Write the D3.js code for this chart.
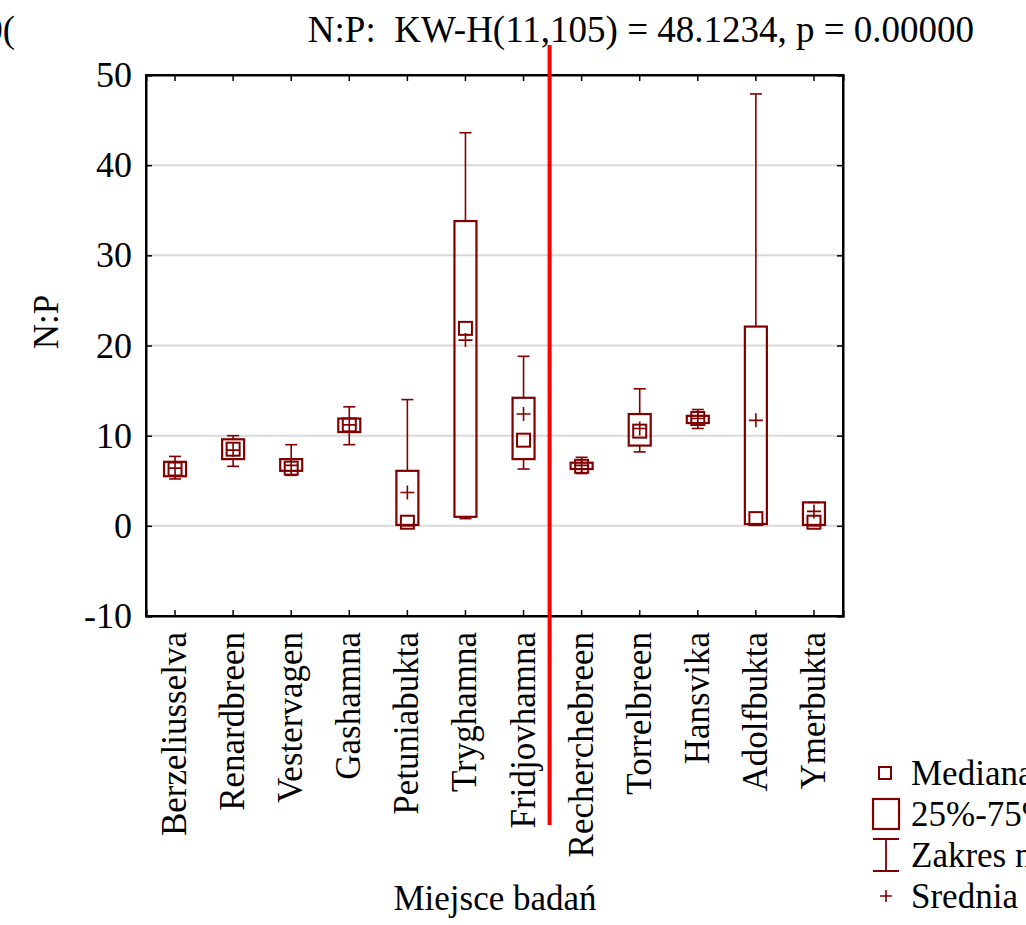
<!DOCTYPE html>
<html><head><meta charset="utf-8">
<script src="https://cdn.jsdelivr.net/npm/d3@7"></script>
<style>body{margin:0;background:#fff}svg{display:block}text{font-family:'Liberation Serif','Times New Roman',serif;fill:#000}</style>
</head><body>
<svg id="c" width="1026" height="925"></svg>
<script>
const categories = ["Berzeliusselva","Renardbreen","Vestervagen","Gashamna","Petuniabukta","Tryghamna","Fridjovhamna","Recherchebreen","Torrelbreen","Hansvika","Adolfbukta","Ymerbukta"];
const minV    = [5.2, 6.6, 5.6, 9.0, 0.0, 0.8, 6.3, 5.8, 8.2, 10.8, 0.1, 0.0];
const q1V     = [5.5, 7.4, 6.1, 10.4, 0.1, 1.0, 7.4, 6.3, 8.9, 11.4, 0.2, 0.1];
const medianV = [6.3, 8.5, 6.4, 11.2, 0.4, 21.9, 9.5, 6.6, 10.5, 11.9, 0.8, 0.4];
const q3V     = [7.1, 9.6, 7.4, 11.9, 6.1, 33.8, 14.2, 7.0, 12.4, 12.2, 22.1, 2.6];
const maxV    = [7.7, 10.0, 9.0, 13.2, 14.0, 43.6, 18.8, 7.6, 15.2, 12.9, 47.9, 2.6];
const meanV   = [6.4, 8.4, 6.7, 11.2, 3.7, 20.6, 12.4, 6.7, 10.8, 11.9, 11.7, 1.6];
const yTicks  = [-10, 0, 10, 20, 30, 40, 50];
const titleText = "N:P:  KW-H(11,105) = 48.1234, p = 0.00000";
const legendLabels = ["Mediana", "25%-75%", "Zakres nieodstających", "Srednia"];

const C = "#800000";
const svg = d3.select("#c");
const L = 146, R = 843, T = 75, B = 616;
const x = d3.scaleBand().domain(categories).range([L, R]).padding(0);
const y = d3.scaleLinear().domain([-10, 50]).range([B, T]);
const cx = c => x(c) + x.bandwidth() / 2;

// gridlines
svg.append("g").selectAll("line").data(yTicks.filter(t => t > -10 && t < 50)).join("line")
  .attr("x1", L).attr("x2", R).attr("y1", d => y(d)).attr("y2", d => y(d))
  .attr("stroke", "#d9d9d9").attr("stroke-width", 2);

// axes
const fs = 35;
const gl = svg.append("g").attr("transform", `translate(${L},0)`)
  .call(d3.axisLeft(y).tickValues(yTicks).tickSize(-6).tickPadding(14).tickFormat(d => String(d)));
const gr = svg.append("g").attr("transform", `translate(${R},0)`)
  .call(d3.axisRight(y).tickValues(yTicks).tickSize(-6).tickFormat(""));
const gb = svg.append("g").attr("transform", `translate(0,${B})`)
  .call(d3.axisBottom(x).tickSize(-6).tickFormat(""));
const gt = svg.append("g").attr("transform", `translate(0,${T})`)
  .call(d3.axisTop(x).tickSize(-6).tickFormat(""));
[gl, gr, gb, gt].forEach(g => {
  g.selectAll(".domain").attr("stroke", "#000").attr("stroke-width", 2);
  g.selectAll(".tick line").attr("stroke", "#000").attr("stroke-width", 1.5);
});
gl.selectAll(".tick text").attr("font-size", 36).attr("font-family", "'Liberation Serif',serif").attr("fill", "#000");
svg.append("rect").attr("x", L).attr("y", T).attr("width", R - L).attr("height", B - T)
  .attr("fill", "none").attr("stroke", "#000").attr("stroke-width", 2);

// category labels
svg.append("g").selectAll("text").data(categories).join("text")
  .attr("transform", d => `translate(${cx(d) + 11},${B + 16}) rotate(-90)`)
  .attr("text-anchor", "end").attr("font-size", fs).text(d => d);

// boxes
const bw = 22, cap = 12, ms = 13, ps = 14;
const g = svg.append("g");
categories.forEach((c, i) => {
  const xc = cx(c);
  const gg = g.append("g");
  gg.append("line").attr("x1", xc).attr("x2", xc).attr("y1", y(maxV[i])).attr("y2", y(q3V[i])).attr("stroke", C).attr("stroke-width", 1.6);
  gg.append("line").attr("x1", xc).attr("x2", xc).attr("y1", y(q1V[i])).attr("y2", y(minV[i])).attr("stroke", C).attr("stroke-width", 1.6);
  gg.append("line").attr("x1", xc - cap / 2).attr("x2", xc + cap / 2).attr("y1", y(maxV[i])).attr("y2", y(maxV[i])).attr("stroke", C).attr("stroke-width", 1.6);
  gg.append("line").attr("x1", xc - cap / 2).attr("x2", xc + cap / 2).attr("y1", y(minV[i])).attr("y2", y(minV[i])).attr("stroke", C).attr("stroke-width", 1.6);
  gg.append("rect").attr("x", xc - bw / 2).attr("y", y(q3V[i])).attr("width", bw)
    .attr("height", Math.max(1, y(q1V[i]) - y(q3V[i]))).attr("fill", "none").attr("stroke", C).attr("stroke-width", 2.2);
  gg.append("rect").attr("x", xc - ms / 2).attr("y", y(medianV[i]) - ms / 2).attr("width", ms).attr("height", ms)
    .attr("fill", "none").attr("stroke", C).attr("stroke-width", 2);
  gg.append("path").attr("d", `M${xc - ps / 2},${y(meanV[i])}H${xc + ps / 2}M${xc},${y(meanV[i]) - ps / 2}V${y(meanV[i]) + ps / 2}`)
    .attr("stroke", C).attr("stroke-width", 1.6).attr("fill", "none");
});

// red separator
const sepX = (x("Fridjovhamna") + x.bandwidth() + x("Recherchebreen")) / 2 - 3;
svg.append("line").attr("x1", sepX).attr("x2", sepX).attr("y1", 45).attr("y2", 825)
  .attr("stroke", "#ff0000").attr("stroke-width", 4);

// titles
svg.append("text").attr("x", 641).attr("y", 42).attr("text-anchor", "middle").attr("font-size", 37)
  .style("white-space", "pre").attr("xml:space", "preserve").text(titleText);
svg.append("text").attr("x", 15).attr("y", 42).attr("text-anchor", "end").attr("font-size", 37).text("0(");
svg.append("text").attr("transform", `translate(58,322) rotate(-90)`).attr("text-anchor", "middle").attr("font-size", fs).text("N:P");
svg.append("text").attr("x", 495).attr("y", 910).attr("text-anchor", "middle").attr("font-size", fs).text("Miejsce badań");

// legend
const lg = svg.append("g");
const ly = [773, 814, 855, 896];
lg.append("rect").attr("x", 879).attr("y", ly[0] - 6).attr("width", 12).attr("height", 12).attr("fill", "none").attr("stroke", C).attr("stroke-width", 2);
lg.append("rect").attr("x", 873).attr("y", ly[1] - 15).attr("width", 26).attr("height", 30).attr("fill", "none").attr("stroke", C).attr("stroke-width", 2.2);
lg.append("path").attr("d", `M873,${ly[2] - 16}H899M873,${ly[2] + 16}H899M886,${ly[2] - 16}V${ly[2] + 16}`).attr("stroke", C).attr("stroke-width", 1.8).attr("fill", "none");
lg.append("path").attr("d", `M880,${ly[3]}H892M886,${ly[3] - 6}V${ly[3] + 6}`).attr("stroke", C).attr("stroke-width", 1.6).attr("fill", "none");
lg.selectAll("text").data(legendLabels).join("text")
  .attr("x", 911).attr("y", (d, i) => ly[i] + 12).attr("font-size", fs).text(d => d);
</script>
</body></html>
